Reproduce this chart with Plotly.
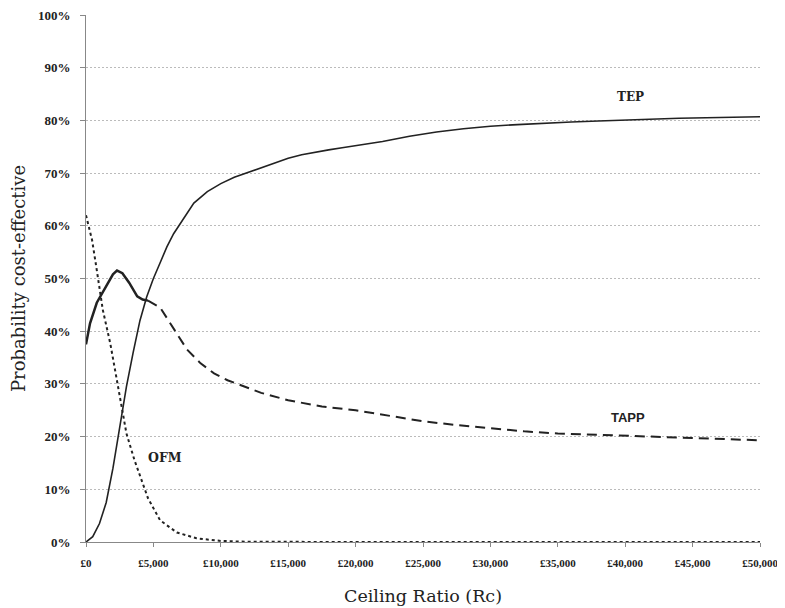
import plotly.graph_objects as go

# ---- data (probability cost-effective, %) ----
tep_x = [0, 500, 1000, 1500, 2000, 2500, 3000, 3500, 4000, 4500, 5000, 5500, 6000, 6500,
         7000, 7500, 8000, 9000, 10000, 11000, 12000, 13000, 14000, 15000, 16000, 17000,
         18000, 19000, 20000, 22000, 24000, 26000, 28000, 30000, 32000, 34000, 36000,
         38000, 40000, 42000, 44000, 46000, 48000, 50000]
tep_y = [0, 1, 3.5, 7.5, 14, 22, 29.5, 36, 42, 46.5, 50, 53, 56, 58.5,
         60.5, 62.5, 64.3, 66.5, 68, 69.2, 70.1, 71, 72, 72.8, 73.5, 74,
         74.4, 74.8, 75.2, 76, 77, 77.8, 78.4, 78.9, 79.2, 79.5, 79.7,
         79.9, 80.1, 80.3, 80.4, 80.5, 80.6, 80.7]

tapp_x = [0, 300, 800, 1500, 2000, 2300, 2700, 3200, 3800, 4200, 4600, 5000, 5500, 6000,
          6750, 7500, 8500, 9500, 10500, 12000, 13000, 15000, 17500, 20000, 22500, 25000,
          27500, 30000, 32500, 35000, 37500, 40000, 42500, 45000, 47500, 50000]
tapp_y = [37.5, 41.5, 45.4, 48.4, 50.8, 51.5, 51, 49.2, 46.6, 46, 45.8, 45.2, 44.5, 42.5,
          39.6, 36.5, 33.9, 32, 30.7, 29.3, 28.3, 26.9, 25.7, 25, 23.9, 22.9,
          22.2, 21.6, 21, 20.6, 20.4, 20.1, 19.9, 19.7, 19.5, 19.3]
tapp_solid_until = 4600  # TAPP drawn solid up to this ceiling ratio, dashed after

ofm_x = [0, 450, 800, 1250, 1800, 2300, 2700, 3000, 3600, 4600, 5500, 6750, 8200, 10000,
         12000, 15000, 20000, 25000, 30000, 35000, 40000, 45000, 50000]
ofm_y = [62, 57.3, 51.6, 44, 37.7, 30.7, 24.4, 20.6, 15.5, 8.3, 4.1, 1.8, 0.7, 0.2,
         0.05, 0, 0, 0, 0, 0, 0, 0, 0]

x_ticks = [0, 5000, 10000, 15000, 20000, 25000, 30000, 35000, 40000, 45000, 50000]
x_labels = ["£0", "£5,000", "£10,000", "£15,000", "£20,000", "£25,000", "£30,000",
            "£35,000", "£40,000", "£45,000", "£50,000"]
y_ticks = [0, 10, 20, 30, 40, 50, 60, 70, 80, 90, 100]
y_labels = [f"{v}%" for v in y_ticks]

SERIF = "DejaVu Serif"
TICKSERIF = "Liberation Serif"

n_solid = sum(1 for v in tapp_x if v <= tapp_solid_until)

fig = go.Figure()
fig.add_trace(go.Scatter(x=ofm_x, y=ofm_y, mode="lines", name="OFM",
                         line=dict(color="#222", width=2, dash="3px,3px")))
fig.add_trace(go.Scatter(x=tapp_x[n_solid - 1:], y=tapp_y[n_solid - 1:], mode="lines", name="TAPP",
                         line=dict(color="#222", width=2, dash="10px,6px")))
fig.add_trace(go.Scatter(x=tapp_x[:n_solid], y=tapp_y[:n_solid], mode="lines", name="TAPP",
                         line=dict(color="#222", width=2.5)))
fig.add_trace(go.Scatter(x=tep_x, y=tep_y, mode="lines", name="TEP",
                         line=dict(color="#222", width=1.6)))

fig.add_annotation(x=40356, y=84.5, text="<b>TEP</b>", showarrow=False,
                   font=dict(family=SERIF, size=12, color="#222"))
fig.add_annotation(x=40208, y=23.7, text="<b>TAPP</b>", showarrow=False,
                   font=dict(family="Liberation Sans", size=13, color="#222"))
fig.add_annotation(x=5860, y=16.1, text="<b>OFM</b>", showarrow=False,
                   font=dict(family=SERIF, size=12.5, color="#222"))

# the page body adds an 8px offset; keep the figure inside the 785x608 window
fig.update_layout(
    width=777, height=600,
    margin=dict(l=78, r=25, t=7, b=66),
    paper_bgcolor="white", plot_bgcolor="white",
    showlegend=False,
    font=dict(family=SERIF, color="#222"),
)
fig.update_xaxes(
    range=[0, 50000], tickvals=x_ticks, ticktext=[f"<b>{t}</b>" for t in x_labels],
    automargin=False, ticklabeloverflow="allow",
    showgrid=False, zeroline=False,
    showline=True, linecolor="#888", linewidth=1,
    ticks="outside", ticklen=4, tickcolor="#888", ticklabelstandoff=7,
    tickfont=dict(family=TICKSERIF, size=11, color="#222"),
    title=dict(text="Ceiling Ratio (Rc)", font=dict(family=SERIF, size=17.5, color="#222"), standoff=21),
)
fig.update_yaxes(
    range=[0, 100], tickvals=y_ticks, ticktext=[f"<b>{t}</b>" for t in y_labels],
    automargin=False, ticklabeloverflow="allow",
    showgrid=True, gridcolor="#bbbbbb", griddash="2px,2px", gridwidth=1,
    zeroline=False,
    showline=True, linecolor="#888", linewidth=1,
    ticks="outside", ticklen=5, tickcolor="#888", ticklabelstandoff=7,
    tickfont=dict(family=TICKSERIF, size=13, color="#222"),
    title=dict(text="Probability cost-effective", font=dict(family=SERIF, size=18, color="#222"), standoff=14),
)

fig.write_html("out.html")
